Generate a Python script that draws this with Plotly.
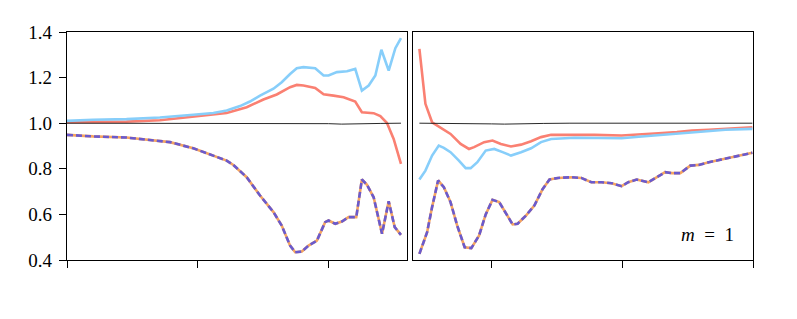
import plotly.graph_objects as go

# ---------------- data: left panel ----------------
left_red_x = [0, 0.455, 0.710, 0.966, 1.221, 1.374, 1.502, 1.604, 1.706, 1.757, 1.808, 1.898,
              1.962, 2.038, 2.115, 2.204, 2.255, 2.345, 2.396, 2.447, 2.498, 2.554]
left_red_y = [1.004, 1.007, 1.013, 1.028, 1.045, 1.070, 1.104, 1.126, 1.158, 1.168, 1.165, 1.155,
              1.127, 1.121, 1.114, 1.095, 1.048, 1.044, 1.031, 1.001, 0.931, 0.822]

left_blue_x = [0, 0.199, 0.455, 0.710, 0.966, 1.119, 1.221, 1.323, 1.399, 1.476, 1.579, 1.642,
               1.706, 1.757, 1.808, 1.898, 1.962, 2.000, 2.064, 2.141, 2.204, 2.255, 2.307,
               2.358, 2.404, 2.460, 2.511, 2.554]
left_blue_y = [1.010, 1.015, 1.018, 1.025, 1.037, 1.045, 1.056, 1.075, 1.095, 1.121, 1.151, 1.180,
               1.216, 1.241, 1.246, 1.241, 1.209, 1.209, 1.224, 1.228, 1.238, 1.143, 1.165,
               1.209, 1.322, 1.231, 1.329, 1.373]

left_purple_x = [0, 0.199, 0.455, 0.633, 0.787, 0.966, 1.119, 1.221, 1.272, 1.374, 1.476, 1.579,
                 1.642, 1.706, 1.745, 1.796, 1.847, 1.911, 1.974, 2.000, 2.051, 2.102, 2.153,
                 2.212, 2.255, 2.294, 2.345, 2.370, 2.409, 2.460, 2.506, 2.554]
left_purple_y = [0.949, 0.942, 0.937, 0.928, 0.917, 0.890, 0.858, 0.836, 0.817, 0.763, 0.683, 0.610,
                 0.551, 0.463, 0.434, 0.437, 0.463, 0.485, 0.566, 0.573, 0.559, 0.569, 0.588,
                 0.588, 0.753, 0.730, 0.675, 0.610, 0.515, 0.658, 0.544, 0.510]

left_black_x = [0, 0.5, 1.0, 1.5, 1.7, 1.8, 1.9, 2.0, 2.1, 2.2, 2.3, 2.4, 2.554]
left_black_y = [1.000, 1.000, 1.000, 0.999, 0.997, 0.998, 0.997, 0.998, 0.996, 0.998, 0.997, 0.999, 1.000]

# ---------------- data: right panel ----------------
right_red_x = [0.049, 0.095, 0.146, 0.210, 0.287, 0.364, 0.428, 0.467, 0.544, 0.608, 0.672, 0.749,
               0.826, 0.903, 0.979, 1.056, 1.236, 1.390, 1.595, 1.749, 1.877, 2.018, 2.133,
               2.262, 2.390, 2.595]
right_red_y = [1.326, 1.085, 1.004, 0.980, 0.953, 0.909, 0.887, 0.895, 0.917, 0.924, 0.909, 0.898,
               0.906, 0.921, 0.939, 0.949, 0.950, 0.949, 0.946, 0.953, 0.956, 0.961, 0.968,
               0.971, 0.975, 0.982]

right_blue_x = [0.049, 0.095, 0.146, 0.197, 0.236, 0.287, 0.351, 0.403, 0.441, 0.492, 0.556, 0.621,
                0.685, 0.749, 0.826, 0.903, 0.979, 1.056, 1.236, 1.441, 1.595, 1.749, 1.903,
                2.056, 2.210, 2.390, 2.595]
right_blue_y = [0.753, 0.792, 0.858, 0.902, 0.892, 0.873, 0.836, 0.803, 0.803, 0.829, 0.880, 0.887,
                0.873, 0.858, 0.873, 0.890, 0.917, 0.931, 0.936, 0.934, 0.934, 0.942, 0.949,
                0.956, 0.963, 0.971, 0.975]

right_purple_x = [0.049, 0.108, 0.146, 0.192, 0.236, 0.287, 0.338, 0.395, 0.446, 0.505, 0.556, 0.608,
                  0.659, 0.718, 0.762, 0.800, 0.864, 0.928, 0.992, 1.044, 1.108, 1.210, 1.287,
                  1.364, 1.441, 1.518, 1.595, 1.646, 1.710, 1.800, 1.864, 1.928, 1.979, 2.044,
                  2.121, 2.185, 2.262, 2.390, 2.492, 2.595]
right_purple_y = [0.427, 0.522, 0.632, 0.749, 0.719, 0.654, 0.551, 0.456, 0.452, 0.507, 0.600, 0.664,
                  0.654, 0.595, 0.556, 0.559, 0.595, 0.639, 0.712, 0.753, 0.760, 0.763, 0.760,
                  0.741, 0.741, 0.737, 0.724, 0.741, 0.753, 0.741, 0.763, 0.785, 0.781, 0.781,
                  0.814, 0.817, 0.829, 0.846, 0.858, 0.870]

right_black_x = [0.049, 0.3, 0.5, 0.6, 0.7, 0.8, 0.9, 1.0, 1.2, 1.6, 2.0, 2.595]
right_black_y = [1.000, 1.000, 1.000, 0.997, 0.996, 0.996, 0.997, 0.999, 1.000, 1.000, 1.000, 1.000]

y_ticks = [0.4, 0.6, 0.8, 1.0, 1.2, 1.4]
left_x_ticks = [0, 1, 2]
right_x_ticks = [0.6, 1.6, 2.6]
label_text = "<i>m</i>&nbsp;&nbsp;=&nbsp;&nbsp;1"

RED = "#FA8072"
BLUE = "#87CEFA"
PURPLE = "#6A5ACD"
ORANGE = "#F4A460"

fig = go.Figure()


def add_panel(xa, ya, rx, ry, bx, by, px, py, kx, ky):
    fig.add_trace(go.Scatter(x=rx, y=ry, mode="lines", line=dict(color=RED, width=2.6),
                             xaxis=xa, yaxis=ya, showlegend=False))
    fig.add_trace(go.Scatter(x=bx, y=by, mode="lines", line=dict(color=BLUE, width=2.6),
                             xaxis=xa, yaxis=ya, showlegend=False))
    fig.add_trace(go.Scatter(x=kx, y=ky, mode="lines", line=dict(color="#111111", width=0.9),
                             xaxis=xa, yaxis=ya, showlegend=False))
    fig.add_trace(go.Scatter(x=px, y=py, mode="lines", line=dict(color=ORANGE, width=2.6),
                             xaxis=xa, yaxis=ya, showlegend=False))
    fig.add_trace(go.Scatter(x=px, y=py, mode="lines",
                             line=dict(color=PURPLE, width=2.6, dash="6px,3px"),
                             xaxis=xa, yaxis=ya, showlegend=False))


add_panel("x", "y", left_red_x, left_red_y, left_blue_x, left_blue_y,
          left_purple_x, left_purple_y, left_black_x, left_black_y)
add_panel("x2", "y2", right_red_x, right_red_y, right_blue_x, right_blue_y,
          right_purple_x, right_purple_y, right_black_x, right_black_y)

FONT = "Liberation Serif, Times New Roman, serif"
axis_common = dict(showgrid=False, zeroline=False, showline=True, linecolor="black",
                   linewidth=1.3, mirror=True, ticks="outside", ticklen=7, tickwidth=1.2,
                   tickcolor="black")

# page has an 8px body margin, so the figure is offset by 8px
OFF = 8
W, H = 797 - OFF, 319 - OFF
L, R, T, B = 67 - OFF, 753 - OFF, 32 - OFF, 260 - OFF
pw = R - L
split1 = (399 - L) / pw
split2 = (405 - L) / pw

fig.update_layout(
    width=W, height=H,
    margin=dict(l=L, r=W - R, t=T, b=H - B, autoexpand=False),
    paper_bgcolor="white", plot_bgcolor="white",
    font=dict(family=FONT, size=19, color="black"),
    xaxis=dict(domain=[0, split1], range=[0, 2.6], tickvals=left_x_ticks,
               showticklabels=False, **axis_common),
    yaxis=dict(domain=[0, 1], range=[0.4, 1.4], tickvals=y_ticks, tickformat=".1f",
               ticklabelstandoff=3, **axis_common),
    xaxis2=dict(domain=[split2, 1], range=[0, 2.6], tickvals=right_x_ticks,
                showticklabels=False, anchor="y2", **axis_common),
    yaxis2=dict(domain=[0, 1], range=[0.4, 1.4], anchor="x2", tickvals=y_ticks,
                showticklabels=False, **{**axis_common, "ticks": ""}),
    annotations=[dict(text=label_text, x=2.25, y=0.51, xref="x2", yref="y2",
                      xanchor="center", yanchor="middle", showarrow=False,
                      font=dict(family=FONT, size=19, color="black"))],
)

fig.write_html("out.html")
